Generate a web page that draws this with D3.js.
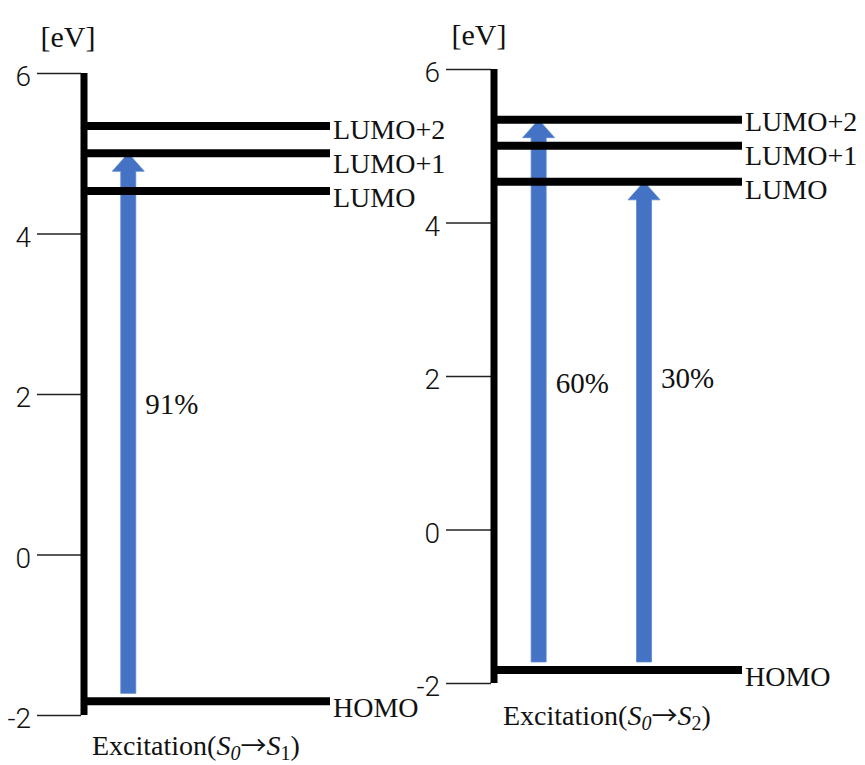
<!DOCTYPE html>
<html>
<head>
<meta charset="utf-8">
<script src="https://cdn.jsdelivr.net/npm/d3@7"></script>
<style>
  body { margin: 0; background: #fff; }
  .tick text { font-family: Roboto, "Liberation Sans", sans-serif; font-weight: 300; }
</style>
</head>
<body>
<div id="chart"></div>
<script>
// energy levels (eV), same for both excitations
var levelNames = ["HOMO", "LUMO", "LUMO+1", "LUMO+2"];
var levelEnergies = [-1.83, 4.53, 5.00, 5.34];
var tickValues = [-2, 0, 2, 4, 6];
var unitLabel = "[eV]";
var arrowSource = "HOMO";

// S0 -> S1
var s1Targets = ["LUMO+1"];
var s1Percents = [91];
var s1LabelEnergies = [1.75];

// S0 -> S2
var s2Targets = ["LUMO+2", "LUMO"];
var s2Percents = [60, 30];
var s2LabelEnergies = [1.78, 1.84];

var width = 865;
var height = 765;
var serif = '"Liberation Serif", "Times New Roman", serif';
var blue = "#4472c4";

var panels = [
  { targets: s1Targets, percents: s1Percents, labelEv: s1LabelEnergies, final: "1",
    axisX: 84, lineEnd: 330, yTop: 73, yBottom: 715, tickLen: 44, slots: [0.18],
    titleX: 92, titleY: 755, unitX: 68, unitY: 47 },
  { targets: s2Targets, percents: s2Percents, labelEv: s2LabelEnergies, final: "2",
    axisX: 494, lineEnd: 742, yTop: 69, yBottom: 683, tickLen: 45, slots: [0.18, 0.605],
    titleX: 503, titleY: 725, unitX: 479, unitY: 45 }
];

function energyOf(name) {
  return levelEnergies[levelNames.indexOf(name)];
}

const svg = d3.select("#chart")
  .append("svg")
  .attr("width", width)
  .attr("height", height)
  .attr("viewBox", [0, 0, width, height]);

panels.forEach(function (p) {
  var y = d3.scaleLinear().domain([-2, 6]).range([p.yBottom, p.yTop]);
  var x = d3.scaleLinear().domain([0, 1]).range([p.axisX, p.lineEnd]);
  var g = svg.append("g");

  // thin ticks with labels
  var axis = g.append("g")
    .attr("transform", "translate(" + (p.axisX - 3) + ",0)")
    .call(d3.axisLeft(y)
      .tickValues(tickValues)
      .tickFormat((d) => String(d))
      .tickSize(p.tickLen)
      .tickSizeOuter(0)
      .tickPadding(6));
  axis.select(".domain").remove();
  axis.selectAll(".tick line").attr("stroke", "#222").attr("stroke-width", 1.5);
  axis.selectAll(".tick text")
    .attr("font-size", 28)
    .attr("fill", "#111")
    .attr("dy", "0.45em");

  // arrows first so the level lines sit on top
  p.targets.forEach(function (t, i) {
    var cx = x(p.slots[i]);
    var yb = y(energyOf(arrowSource)) - 8;
    var yt = y(energyOf(t));
    var shaft = 7.5, head = 16, headLen = 18;
    var pts = [
      [cx - shaft, yb], [cx - shaft, yt + headLen], [cx - head, yt + headLen],
      [cx, yt], [cx + head, yt + headLen], [cx + shaft, yt + headLen], [cx + shaft, yb]
    ];
    g.append("path")
      .attr("d", d3.line()(pts) + "Z")
      .attr("fill", blue)
      .attr("stroke", "#5a86d0")
      .attr("stroke-width", 0.8);

    g.append("text")
      .attr("x", cx + 17)
      .attr("y", y(p.labelEv[i]))
      .attr("font-family", serif)
      .attr("font-size", 29)
      .attr("fill", "#111")
      .text(p.percents[i] + "%");
  });

  // energy level lines
  g.selectAll("line.level")
    .data(levelNames)
    .join("line")
    .attr("class", "level")
    .attr("x1", p.axisX)
    .attr("x2", p.lineEnd)
    .attr("y1", (d, i) => y(levelEnergies[i]))
    .attr("y2", (d, i) => y(levelEnergies[i]))
    .attr("stroke", "#000")
    .attr("stroke-width", 8);

  // level labels, spread apart symmetrically when they crowd
  var labelY = levelEnergies.map((e) => y(e) + 16);
  var order = d3.range(levelNames.length).sort((a, b) => labelY[a] - labelY[b]);
  var minGap = 34;
  for (let pass = 0; pass < 10; pass++) {
    for (let k = 1; k < order.length; k++) {
      var a = order[k - 1], b = order[k];
      var gap = labelY[b] - labelY[a];
      if (gap < minGap) {
        labelY[a] -= (minGap - gap) / 2;
        labelY[b] += (minGap - gap) / 2;
      }
    }
  }
  g.selectAll("text.level")
    .data(levelNames)
    .join("text")
    .attr("class", "level")
    .attr("x", p.lineEnd + 3)
    .attr("y", (d, i) => labelY[i])
    .attr("font-family", serif)
    .attr("font-size", 28)
    .attr("fill", "#111")
    .text((d) => d);

  // thick vertical axis
  g.append("line")
    .attr("x1", p.axisX).attr("x2", p.axisX)
    .attr("y1", p.yTop).attr("y2", p.yBottom)
    .attr("stroke", "#000")
    .attr("stroke-width", 7);

  // unit
  g.append("text")
    .attr("x", p.unitX)
    .attr("y", p.unitY)
    .attr("text-anchor", "middle")
    .attr("font-family", serif)
    .attr("font-size", 30)
    .attr("fill", "#111")
    .text(unitLabel);

  // excitation title
  var title = g.append("text")
    .attr("x", p.titleX)
    .attr("y", p.titleY)
    .attr("font-family", serif)
    .attr("font-size", 28)
    .attr("fill", "#111");
  title.append("tspan").text("Excitation(");
  title.append("tspan").attr("font-style", "italic").text("S");
  title.append("tspan").attr("font-style", "italic").attr("font-size", 20).attr("dy", 5).text("0");
  title.append("tspan").attr("dy", -5).attr("font-family", '"Noto Sans CJK JP", sans-serif')
    .attr("font-size", 26).text("\u2192");
  title.append("tspan").attr("font-style", "italic").text("S");
  title.append("tspan").attr("font-size", 20).attr("dy", 5).text(p.final);
  title.append("tspan").attr("dy", -5).text(")");
});
</script>
</body>
</html>
